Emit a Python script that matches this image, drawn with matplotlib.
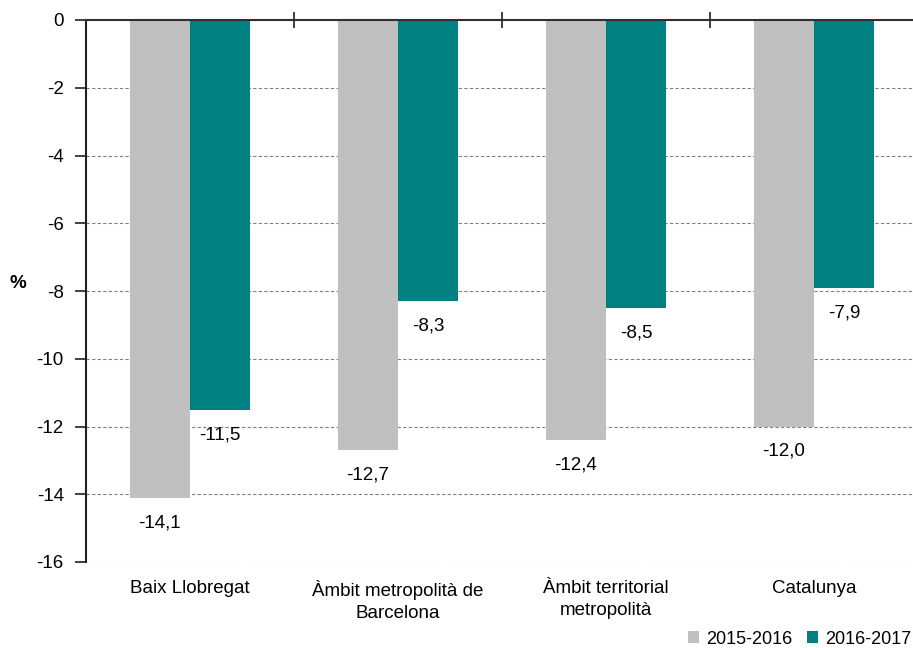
import numpy as np
import matplotlib.pyplot as plt

# data
categories = ['Baix Llobregat', 'Àmbit metropolità de\nBarcelona', 'Àmbit territorial\nmetropolità', 'Catalunya']
series_names = ['2015-2016', '2016-2017']
vals_2015_2016 = [-14.1, -12.7, -12.4, -12.0]
vals_2016_2017 = [-11.5, -8.3, -8.5, -7.9]
yticks = [0, -2, -4, -6, -8, -10, -12, -14, -16]

plt.rcParams['font.family'] = ['Liberation Sans', 'DejaVu Sans']

fig = plt.figure(figsize=(9.13, 6.48), dpi=100)
ax = fig.add_axes([86/913, 1-562/648, 832/913, 542/648])

x = np.arange(len(categories))
w = 0.29
gray = '#c0c0c0'
teal = '#008080'
b1 = ax.bar(x - w/2, vals_2015_2016, w, color=gray, label=series_names[0], zorder=3)
b2 = ax.bar(x + w/2, vals_2016_2017, w, color=teal, label=series_names[1], zorder=3)

# value labels under each bar
for bars, vals in [(b1, vals_2015_2016), (b2, vals_2016_2017)]:
    for rect, v in zip(bars, vals):
        ax.annotate(('%.1f' % v).replace('.', ','),
                    (rect.get_x() + rect.get_width()/2, v),
                    xytext=(0, -25), textcoords='offset pixels',
                    ha='center', va='center', fontsize=13.5)

ax.set_xlim(-0.5, 3.5)
ax.set_ylim(-16, 0)
ax.set_yticks(yticks)
ax.set_yticklabels([str(t) for t in yticks])
ax.yaxis.grid(True, linestyle=(0, (3, 2)), color='#808080', linewidth=0.8, zorder=0)

# category labels at the bottom, group separators on the top axis line
ax.set_xticks(x)
ax.set_xticklabels(categories, fontsize=13.5, linespacing=1.4)
ax.set_xticks([0.5, 1.5, 2.5], minor=True)
ax.tick_params(axis='x', which='major', length=0, pad=13, bottom=True, top=False)
ax.tick_params(axis='x', which='minor', direction='inout', length=11, width=1.2,
               top=True, bottom=False, color='#202020')
ax.tick_params(axis='y', labelsize=13.5, length=8, width=1.2, pad=8, color='#202020')

for s in ['right', 'bottom']:
    ax.spines[s].set_visible(False)
ax.spines['top'].set_linewidth(1.5)
ax.spines['top'].set_color('#303030')
ax.spines['left'].set_linewidth(1.5)
ax.spines['left'].set_color('#202020')
ax.spines['top'].set_zorder(4)

fig.text(18/913, 1-283/648, '%', fontsize=13.5, fontweight='bold', ha='center', va='center')

fig.legend(handles=[b1, b2], labels=series_names, loc='center right',
           bbox_to_anchor=(911/913, 1-639/648), ncol=2, frameon=False,
           fontsize=13, handlelength=0.6, handleheight=0.6, handletextpad=0.4,
           columnspacing=0.8, borderaxespad=0, borderpad=0)

fig.savefig('out.png', dpi=100)
